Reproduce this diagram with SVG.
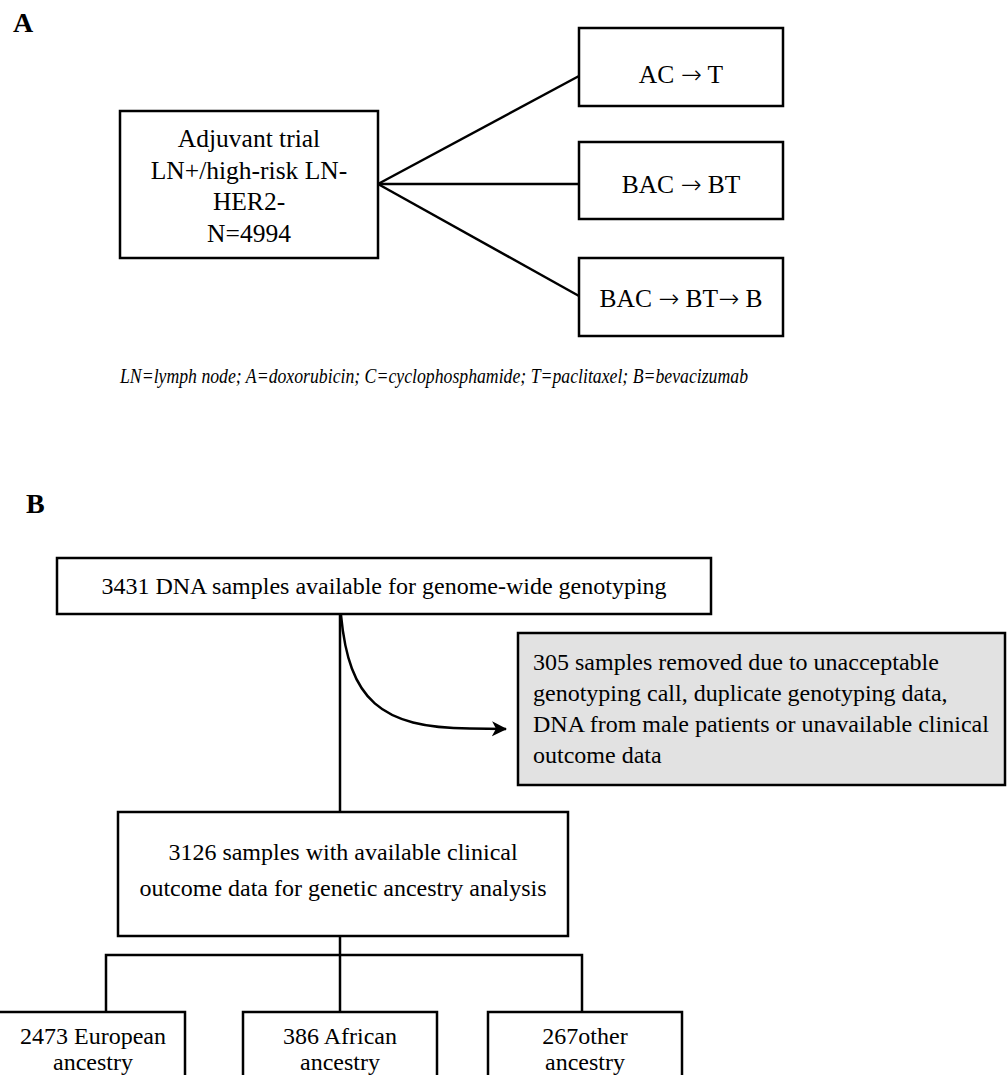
<svg xmlns="http://www.w3.org/2000/svg" width="1007" height="1075" viewBox="0 0 1007 1075">
<defs>
<style>
.box{fill:#fff;stroke:#000;stroke-width:2.5}
.gray{fill:#e2e2e2;stroke:#000;stroke-width:2.5}
.t{font-family:"Liberation Serif","Times New Roman",serif;font-size:24px;fill:#000}
.ta{font-family:"Liberation Serif","Times New Roman",serif;font-size:25.5px;fill:#000}
.ar{font-family:"DejaVu Sans",sans-serif;font-size:25px;font-weight:200}
.c{text-anchor:middle}
.lbl{font-family:"Liberation Serif","Times New Roman",serif;font-weight:bold;font-size:28px;fill:#000}
.cap{font-family:"Liberation Serif","Times New Roman",serif;font-style:italic;font-size:21px;fill:#000}
.conn{stroke:#000;stroke-width:2.5;fill:none}
</style>
<marker id="arr" markerWidth="16" markerHeight="16" refX="14" refY="8" orient="auto" markerUnits="userSpaceOnUse">
<path d="M0,0.5 L15,8 L0,15.5 L4,8 Z" fill="#000"/>
</marker>
</defs>
<rect width="1007" height="1075" fill="#fff"/>

<text class="lbl" x="13" y="32">A</text>
<text class="lbl" x="26" y="513">B</text>

<g id="connectors">
<line class="conn" x1="378" y1="184" x2="579" y2="76"/>
<line class="conn" x1="378" y1="184" x2="579" y2="184"/>
<line class="conn" x1="378" y1="184" x2="579" y2="296"/>
<line class="conn" x1="340" y1="614" x2="340" y2="812"/>
<path class="conn" d="M341,615 C349,700 380,728 470,728.5 L506,729" marker-end="url(#arr)"/>
<line class="conn" x1="340" y1="936" x2="340" y2="1012"/>
<polyline class="conn" points="106,1012 106,955 582,955 582,1012"/>
</g>

<g id="trial">
<rect class="box" x="120" y="111" width="258" height="147"/>
<text class="ta c" x="249" y="147">Adjuvant trial</text>
<text class="ta c" x="249" y="179">LN+/high-risk LN-</text>
<text class="ta c" x="249" y="210">HER2-</text>
<text class="ta c" x="249" y="242">N=4994</text>
</g>

<g id="arm1">
<rect class="box" x="579" y="28" width="204" height="78"/>
<text class="ta c" x="681" y="83">AC <tspan class="ar">→</tspan> T</text>
</g>
<g id="arm2">
<rect class="box" x="579" y="142" width="204" height="77"/>
<text class="ta c" x="681" y="193">BAC <tspan class="ar">→</tspan> BT</text>
</g>
<g id="arm3">
<rect class="box" x="579" y="258" width="204" height="78"/>
<text class="ta c" x="681" y="307">BAC <tspan class="ar">→</tspan> BT<tspan class="ar">→</tspan> B</text>
</g>

<text class="cap" x="120" y="383" textLength="628" lengthAdjust="spacingAndGlyphs">LN=lymph node; A=doxorubicin; C=cyclophosphamide; T=paclitaxel; B=bevacizumab</text>

<g id="dna">
<rect class="box" x="57" y="558" width="654" height="56"/>
<text class="t c" x="384" y="594">3431 DNA samples available for genome-wide genotyping</text>
</g>

<g id="removed">
<rect class="gray" x="518" y="633" width="487" height="152"/>
<text class="t" x="533" y="670">305 samples removed due to unacceptable</text>
<text class="t" x="533" y="701">genotyping call, duplicate genotyping data,</text>
<text class="t" x="533" y="732">DNA from male patients or unavailable clinical</text>
<text class="t" x="533" y="763">outcome data</text>
</g>

<g id="clinical">
<rect class="box" x="118" y="812" width="450" height="124"/>
<text class="t c" x="343" y="860">3126 samples with available clinical</text>
<text class="t c" x="343" y="896">outcome data for genetic ancestry analysis</text>
</g>

<g id="european">
<rect class="box" x="-2" y="1012" width="187" height="80"/>
<text class="t c" x="93" y="1044">2473 European</text>
<text class="t c" x="93" y="1070">ancestry</text>
</g>
<g id="african">
<rect class="box" x="243" y="1012" width="194" height="80"/>
<text class="t c" x="340" y="1044">386 African</text>
<text class="t c" x="340" y="1070">ancestry</text>
</g>
<g id="other">
<rect class="box" x="488" y="1012" width="194" height="80"/>
<text class="t c" x="585" y="1044">267other</text>
<text class="t c" x="585" y="1070">ancestry</text>
</g>
</svg>
